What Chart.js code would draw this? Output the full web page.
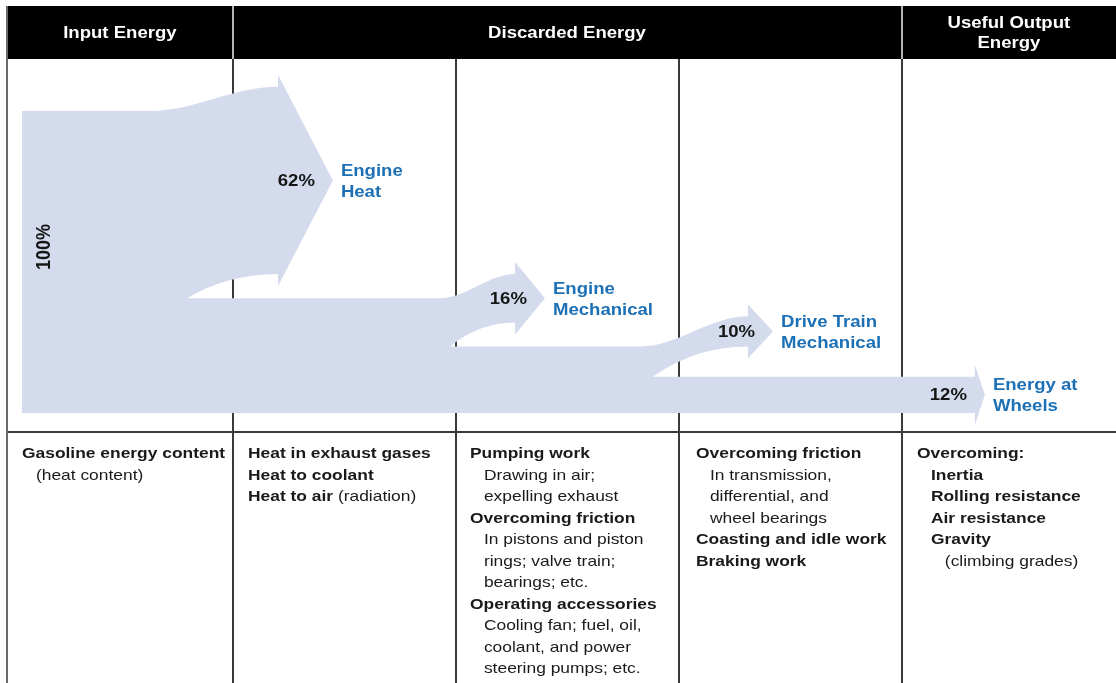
<!DOCTYPE html>
<html>
<head>
<meta charset="utf-8">
<title>Where the energy in a car's fuel goes</title>
<script src="https://cdn.jsdelivr.net/npm/chart.js@4/dist/chart.umd.min.js"></script>
<style>
  html, body { margin: 0; padding: 0; background: #fff; }
  #wrap { position: relative; width: 1116px; height: 683px; overflow: hidden;
          font-family: "Liberation Sans", Arial, sans-serif; }
  #chartBox { position: absolute; left: 0; top: 0; width: 1116px; height: 683px; }
  .head { position: absolute; top: 6px; height: 53px; color: #fff; font-weight: bold;
          font-size: 16px; line-height: 20px; display: flex; align-items: center;
          justify-content: center; text-align: center; }
  .head span { display: inline-block; transform: scaleX(1.16); }
  .notes { position: absolute; top: 442px; font-size: 15px; line-height: 21.5px; color: #1a1a1a;
           transform: scaleX(1.16); transform-origin: 0 0; white-space: nowrap; }
  .notes .b { font-weight: bold; }
  .notes .i1 { padding-left: 12px; }
  .notes .i2 { padding-left: 24px; }
</style>
</head>
<body>
<div id="wrap">
  <div id="chartBox"><canvas id="flowChart"></canvas></div>

  <div class="head" style="left:7px; width:226px;"><span>Input Energy</span></div>
  <div class="head" style="left:233px; width:669px;"><span>Discarded Energy</span></div>
  <div class="head" style="left:902px; width:214px;"><span>Useful Output<br>Energy</span></div>

  <div class="notes" style="left:22px;">
    <div class="b">Gasoline energy content</div>
    <div class="i1">(heat content)</div>
  </div>
  <div class="notes" style="left:248px;">
    <div class="b">Heat in exhaust gases</div>
    <div class="b">Heat to coolant</div>
    <div><span class="b">Heat to air</span> (radiation)</div>
  </div>
  <div class="notes" style="left:470px;">
    <div class="b">Pumping work</div>
    <div class="i1">Drawing in air;</div>
    <div class="i1">expelling exhaust</div>
    <div class="b">Overcoming friction</div>
    <div class="i1">In pistons and piston</div>
    <div class="i1">rings; valve train;</div>
    <div class="i1">bearings; etc.</div>
    <div class="b">Operating accessories</div>
    <div class="i1">Cooling fan; fuel, oil,</div>
    <div class="i1">coolant, and power</div>
    <div class="i1">steering pumps; etc.</div>
  </div>
  <div class="notes" style="left:696px;">
    <div class="b">Overcoming friction</div>
    <div class="i1">In transmission,</div>
    <div class="i1">differential, and</div>
    <div class="i1">wheel bearings</div>
    <div class="b">Coasting and idle work</div>
    <div class="b">Braking work</div>
  </div>
  <div class="notes" style="left:917px;">
    <div class="b">Overcoming:</div>
    <div class="b i1">Inertia</div>
    <div class="b i1">Rolling resistance</div>
    <div class="b i1">Air resistance</div>
    <div class="b i1">Gravity</div>
    <div class="i2">(climbing grades)</div>
  </div>
</div>

<script>
/* ---------- Data (percent of the fuel's energy) ---------- */
const inputLabel = '100%';
const inputShare = 100;
const flowNames = [['Engine', 'Heat'], ['Engine', 'Mechanical'], ['Drive Train', 'Mechanical'], ['Energy at', 'Wheels']];
const flowShares = [62, 16, 10, 12];

/* ---------- Layout (x in column units, rise in percent units) ---------- */
const bandLeft = 0.054;
const arrowLayout = [
  { peel: 0.628, notch: 0.794, base: 1.202, tip: 1.448, rise: 8 },
  { peel: 1.928, notch: 1.973, base: 2.265, tip: 2.399, rise: 8 },
  { peel: 2.825, notch: 2.883, base: 3.309, tip: 3.422, rise: 10 },
  { peel: null, notch: null, base: 4.327, tip: 4.372, rise: 0 }
];
const HEAD_OVERHANG = 12;
const STRETCH = 1.16;
const colors = { flow: '#d3dbec', ink: '#161616', blue: '#1c70b5', rule: '#3a3a3a', frame: '#6a6a6a' };
const FONT = '"Liberation Sans", Arial, sans-serif';

function stretchedText(ctx, text, x, y, align) {
  ctx.save();
  ctx.translate(x, y);
  ctx.scale(STRETCH, 1);
  ctx.textAlign = align;
  ctx.fillText(text, 0, 0);
  ctx.restore();
}

/* ---------- Frame: header bar, column rules ---------- */
const frame = {
  id: 'frame',
  beforeDatasetsDraw(chart) {
    const { ctx, chartArea, scales: { x } } = chart;
    const W = chart.width, H = chart.height;
    ctx.save();
    ctx.fillStyle = '#000';
    ctx.fillRect(7, 6, W - 7, chartArea.top - 7);
    ctx.lineWidth = 2;
    // header separators
    ctx.strokeStyle = '#b4b4b4';
    [1, 4].forEach(c => {
      const px = Math.round(x.getPixelForValue(c));
      ctx.beginPath(); ctx.moveTo(px, 6); ctx.lineTo(px, chartArea.top - 1); ctx.stroke();
    });
    // column rules, body and notes
    ctx.strokeStyle = colors.rule;
    [1, 2, 3, 4].forEach(c => {
      const px = Math.round(x.getPixelForValue(c));
      ctx.beginPath(); ctx.moveTo(px, chartArea.top - 1); ctx.lineTo(px, H); ctx.stroke();
    });
    ctx.beginPath(); ctx.moveTo(7, chartArea.bottom); ctx.lineTo(W, chartArea.bottom); ctx.stroke();
    ctx.strokeStyle = colors.frame;
    ctx.beginPath(); ctx.moveTo(7, 6); ctx.lineTo(7, H); ctx.stroke();
    ctx.restore();
  }
};

/* ---------- Flow arrows drawn from the shares through the scales ---------- */
const flows = {
  id: 'flows',
  beforeDatasetsDraw(chart) {
    const { ctx, scales: { x, y } } = chart;
    const px = v => x.getPixelForValue(v);
    const py = v => y.getPixelForValue(v);
    const labels = [];
    let rest = inputShare;

    ctx.save();
    ctx.fillStyle = colors.flow;
    ctx.beginPath();
    ctx.moveTo(px(bandLeft), py(0));
    ctx.lineTo(px(bandLeft), py(rest));
    flowShares.forEach((share, i) => {
      const a = arrowLayout[i];
      const top0 = py(rest), bot0 = py(rest - share);
      const top1 = py(rest + a.rise), bot1 = py(rest + a.rise - share);
      const xb = px(a.base), xt = px(a.tip);
      if (a.rise) {
        const xp = px(a.peel), dx = xb - xp;
        ctx.lineTo(xp, top0);
        ctx.bezierCurveTo(xp + dx * 0.35, top0, xb - dx * 0.35, top1, xb, top1);
      } else {
        ctx.lineTo(xb, top1);
      }
      ctx.lineTo(xb, top1 - HEAD_OVERHANG);
      ctx.lineTo(xt, (top1 + bot1) / 2);
      ctx.lineTo(xb, bot1 + HEAD_OVERHANG);
      ctx.lineTo(xb, bot1);
      if (a.rise) {
        const xn = px(a.notch), dn = xb - xn;
        ctx.quadraticCurveTo(xn + dn * 0.45, bot1, xn, bot0);
      }
      labels.push({ share, name: flowNames[i], tip: xt, mid: (top1 + bot1) / 2 });
      rest -= share;
    });
    ctx.closePath();
    ctx.fill();

    ctx.textBaseline = 'middle';
    ctx.font = 'bold 16px ' + FONT;
    labels.forEach(l => {
      ctx.fillStyle = colors.ink;
      stretchedText(ctx, l.share + '%', l.tip - 18, l.mid + 1, 'right');
      ctx.fillStyle = colors.blue;
      stretchedText(ctx, l.name[0], l.tip + 8, l.mid - 9, 'left');
      stretchedText(ctx, l.name[1], l.tip + 8, l.mid + 12, 'left');
    });

    // rotated input label
    ctx.fillStyle = colors.ink;
    ctx.font = 'bold 18px ' + FONT;
    ctx.translate(px(bandLeft) + 22, py(inputShare * 0.55));
    ctx.scale(STRETCH, 1);
    ctx.rotate(-Math.PI / 2);
    ctx.textAlign = 'center';
    ctx.fillText(inputLabel, 0, 0);
    ctx.restore();
  }
};

new Chart(document.getElementById('flowChart'), {
  type: 'scatter',
  data: {
    datasets: [{
      label: 'Share of fuel energy',
      data: flowShares.map((s, i) => ({ x: arrowLayout[i].tip, y: s })),
      pointRadius: 0,
      pointHoverRadius: 0
    }]
  },
  options: {
    responsive: true,
    maintainAspectRatio: false,
    animation: false,
    layout: { padding: { top: 60, bottom: 251, left: 10, right: 0 } },
    plugins: { legend: { display: false }, tooltip: { enabled: false } },
    scales: {
      x: { type: 'linear', display: false, min: 0, max: 4.96 },
      y: { type: 'linear', display: false, min: -6.3, max: 116.9 }
    }
  },
  plugins: [frame, flows]
});
</script>
</body>
</html>
